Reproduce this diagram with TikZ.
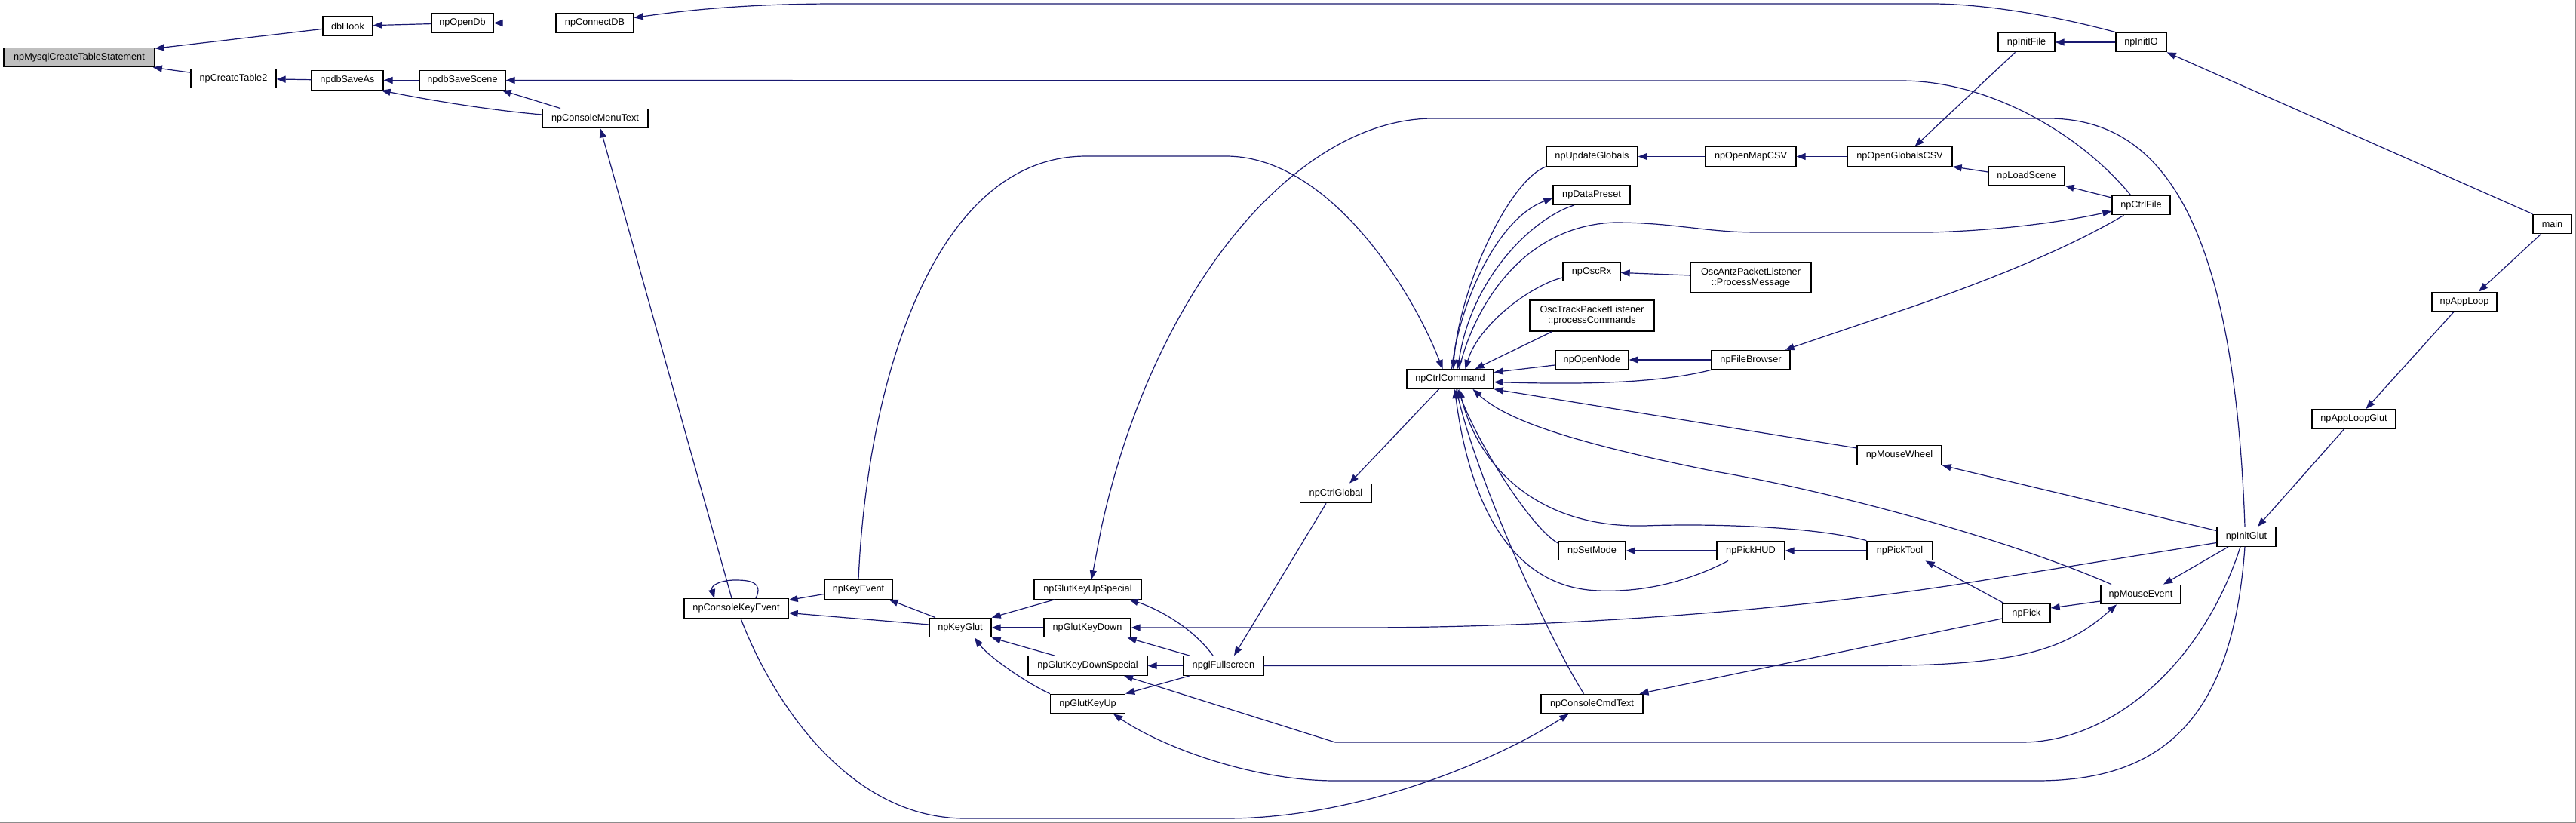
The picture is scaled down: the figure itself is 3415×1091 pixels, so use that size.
\documentclass[tikz,border=0pt]{standalone}
\usepackage{fontspec}
\setmainfont{Liberation Sans}
\usetikzlibrary{arrows.meta,calc}
\definecolor{edgeblue}{HTML}{191970}
\begin{document}
\begin{tikzpicture}[x=1pt,y=-1pt,
 nd/.style={draw=black, line width=1.3pt, fill=white, inner sep=0pt, minimum height=25.5pt, font=\fontsize{12.7}{14}\selectfont, text=black},
 ed/.style={draw=edgeblue, line width=1.2pt, -{Triangle[length=12pt,width=9pt]}}
]
\useasboundingbox (0,0) rectangle (3415,1091);
\fill[white] (0,0) rectangle (3415,1091);
\draw[black!45,line width=1.5pt] (0,1090.25) -- (3414.25,1090.25) -- (3414.25,0);

\node[nd,minimum width=200pt,fill=black!25] (mysql) at (105,76) {npMysqlCreateTableStatement};
\node[nd,minimum width=66pt] (dbHook) at (461,34.5) {dbHook};
\node[nd,minimum width=82pt] (openDb) at (613,30.5) {npOpenDb};
\node[nd,minimum width=103pt] (connectDB) at (788.5,30.5) {npConnectDB};
\node[nd,minimum width=113pt] (createTable2) at (309.5,104) {npCreateTable2};
\node[nd,minimum width=95pt] (dbSaveAs) at (460.5,106.5) {npdbSaveAs};
\node[nd,minimum width=114pt] (dbSaveScene) at (613,106.5) {npdbSaveScene};
\node[nd,minimum width=140pt] (menuText) at (789,157) {npConsoleMenuText};
\node[nd,minimum width=75pt] (initFile) at (2686.5,56) {npInitFile};
\node[nd,minimum width=67pt] (initIO) at (2838.5,56) {npInitIO};
\node[nd,minimum width=121pt] (updGlobals) at (2110.5,207.5) {npUpdateGlobals};
\node[nd,minimum width=120pt] (openMap) at (2321,207.5) {npOpenMapCSV};
\node[nd,minimum width=139pt] (openGlobals) at (2518.5,207.5) {npOpenGlobalsCSV};
\node[nd,minimum width=101pt] (loadScene) at (2686.5,233) {npLoadScene};
\node[nd,minimum width=77pt] (ctrlFile) at (2838.5,272) {npCtrlFile};
\node[nd,minimum width=51pt] (main) at (3383.5,297) {main};
\node[nd,minimum width=102pt] (dataPreset) at (2110,258.5) {npDataPreset};
\node[nd,minimum width=76pt] (oscRx) at (2110,360) {npOscRx};
\node[nd,minimum width=160pt,minimum height=40pt,align=center] (oscAntz) at (2321,368) {OscAntzPacketListener\\::ProcessMessage};
\node[nd,minimum width=165pt,minimum height=41pt,align=center] (oscTrack) at (2110.5,418.5) {OscTrackPacketListener\\::processCommands};
\node[nd,minimum width=86pt] (appLoop) at (3267,400) {npAppLoop};
\node[nd,minimum width=115pt] (ctrlCmd) at (1922.5,502.5) {npCtrlCommand};
\node[nd,minimum width=97pt] (openNode) at (2110.5,477) {npOpenNode};
\node[nd,minimum width=104pt] (fileBrowser) at (2321,477) {npFileBrowser};
\node[nd,minimum width=111pt] (appLoopGlut) at (3120.5,555.5) {npAppLoopGlut};
\node[nd,minimum width=112pt] (mouseWheel) at (2518,603.5) {npMouseWheel};
\node[nd,minimum width=95pt] (ctrlGlobal) at (1771,654) {npCtrlGlobal};
\node[nd,minimum width=78pt] (initGlut) at (2978,711.5) {npInitGlut};
\node[nd,minimum width=89pt] (setMode) at (2110.5,730) {npSetMode};
\node[nd,minimum width=90pt] (pickHUD) at (2321,730) {npPickHUD};
\node[nd,minimum width=87pt] (pickTool) at (2518.5,730) {npPickTool};
\node[nd,minimum width=90pt] (keyEvent) at (1138,781.5) {npKeyEvent};
\node[nd,minimum width=142pt] (gkUpSpecial) at (1442,781.5) {npGlutKeyUpSpecial};
\node[nd,minimum width=106pt] (mouseEvent) at (2838,788) {npMouseEvent};
\node[nd,minimum width=138pt] (consoleKey) at (976,806.5) {npConsoleKeyEvent};
\node[nd,minimum width=63pt] (pick) at (2686.5,813) {npPick};
\node[nd,minimum width=82pt] (keyGlut) at (1273,832) {npKeyGlut};
\node[nd,minimum width=115pt] (gkDown) at (1441.5,832) {npGlutKeyDown};
\node[nd,minimum width=158pt] (gkDownSpecial) at (1442,882.5) {npGlutKeyDownSpecial};
\node[nd,minimum width=106pt] (fullscreen) at (1622,882.5) {npglFullscreen};
\node[nd,minimum width=99pt] (gkUp) at (1442,933) {npGlutKeyUp};
\node[nd,minimum width=135pt] (cmdText) at (2110.5,933) {npConsoleCmdText};

% top-left chain
\draw[ed] (dbHook) -- (mysql);
\draw[ed] (createTable2) -- (mysql);
\draw[ed] (openDb) -- (dbHook);
\draw[ed] (connectDB) -- (openDb);
\draw[ed] (initIO.north west) .. controls (2740,25) and (2640,5) .. (2560,5) -- (1110,5) .. controls (1000,5) and (920,12) .. ([yshift=7]connectDB.east);
\draw[ed] (dbSaveAs) -- (createTable2);
\draw[ed] (dbSaveScene) -- (dbSaveAs);
\draw[ed] ([yshift=5]menuText.west) .. controls (660,147) and (580,135) .. ([xshift=-3]dbSaveAs.south east);
\draw[ed] ([xshift=-46]menuText.north) -- ([xshift=-5]dbSaveScene.south east);
\draw[ed] ([xshift=-14]ctrlFile.north) .. controls (2760,180) and (2640,107) .. (2520,107) -- (dbSaveScene.east);

% top-right
\draw[ed] (initIO) -- (initFile);
\draw[ed] ([xshift=-15]initFile.south) -- ([xshift=20]openGlobals.north);
\draw[ed] (main.north west) -- (initIO.south east);
\draw[ed] ([xshift=-15]main.south) -- ([xshift=19]appLoop.north);
\draw[ed] ([xshift=-14]appLoop.south) -- ([xshift=16]appLoopGlut.north);
\draw[ed] ([xshift=-13]appLoopGlut.south) -- ([xshift=15]initGlut.north);
\draw[ed] (openMap) -- (updGlobals);
\draw[ed] (openGlobals) -- (openMap);
\draw[ed] ([yshift=5]loadScene.west) -- (openGlobals.south east);
\draw[ed] ([yshift=10]ctrlFile.west) -- (loadScene.south east);

% npCtrlCommand top
\draw[ed] ([xshift=12]ctrlCmd.north) .. controls (1950,420) and (2010,300) .. (2140,295) .. controls (2220,295) and (2260,308) .. (2330,308) -- (2560,308) .. controls (2660,305) and (2740,293) .. ([yshift=-8]ctrlFile.west);
\draw[ed] ([xshift=2]ctrlCmd.north) .. controls (1935,400) and (1985,290) .. ([yshift=-4]dataPreset.west);
\draw[ed] ([xshift=-23]dataPreset.south) .. controls (2030,290) and (1950,370) .. ([xshift=10]ctrlCmd.north);
\draw[ed] (updGlobals.south west) .. controls (2000,240) and (1935,380) .. ([xshift=4]ctrlCmd.north);
\draw[ed] (keyEvent.north) .. controls (1150,500) and (1240,207) .. (1440,207) -- (1625,207) .. controls (1760,207) and (1870,380) .. ([xshift=-10]ctrlCmd.north);
\draw[ed] ([xshift=-53]oscTrack.south) -- ([xshift=33]ctrlCmd.north);
\draw[ed] ([yshift=-8]oscRx.west) .. controls (2030,378) and (1960,430) .. ([xshift=20]ctrlCmd.north);
\draw[ed] (oscAntz) -- (oscRx);

% long curve from npInitGlut to npGlutKeyUpSpecial
\draw[ed] ([xshift=-2]initGlut.north) .. controls (2962,300) and (2870,157) .. (2715,157) -- (1900,157) .. controls (1720,157) and (1530,380) .. (1460,700) -- ([xshift=5]gkUpSpecial.north);

% npCtrlCommand right and bottom
\draw[ed] ([xshift=-13]ctrlGlobal.south) -- ([xshift=14]fullscreen.north);
\draw[ed] ([xshift=-15]ctrlCmd.south) -- ([xshift=18]ctrlGlobal.north);
\draw[ed] ([xshift=-11]cmdText.north) .. controls (2050,840) and (1960,640) .. ([xshift=8]ctrlCmd.south);
\draw[ed] ([yshift=10]setMode.west) .. controls (2030,700) and (1960,590) .. ([xshift=10]ctrlCmd.south);
\draw[ed] ([xshift=-30]pickHUD.south) .. controls (2230,775) and (2170,785) .. (2120,783) .. controls (2010,780) and (1950,680) .. ([xshift=6]ctrlCmd.south);
\draw[ed] (pickTool.north west) .. controls (2400,697) and (2260,694) .. (2180,697) .. controls (2040,700) and (1960,620) .. ([xshift=12]ctrlCmd.south);
\draw[ed] ([xshift=-39]mouseEvent.north) .. controls (2650,710) and (2420,650) .. (2274,625) .. controls (2100,590) and (2000,560) .. ([xshift=30]ctrlCmd.south);
\draw[ed] ([yshift=9.5]mouseWheel.west) -- (ctrlCmd.south east);
\draw[ed] (fileBrowser.south west) .. controls (2200,508) and (2100,510) .. ([yshift=-4]ctrlCmd.east);
\draw[ed] ([yshift=-7]openNode.west) -- ([yshift=9]ctrlCmd.east);
\draw[ed] (fileBrowser) -- (openNode);
\draw[ed] ([xshift=-23]ctrlFile.south) .. controls (2740,330) and (2640,370) .. (2540,405) -- ([xshift=-7]fileBrowser.north east);

% key handling cluster
\draw[ed] ([xshift=-6]consoleKey.north) -- ([xshift=7]menuText.south);
\draw[ed] ([xshift=26]consoleKey.north) .. controls (1012,772) and (995,769) .. (975,769) .. controls (955,769) and (942,776) .. ([xshift=-29]consoleKey.north);
\draw[ed] ([yshift=-6]keyEvent.west) -- ([yshift=11]consoleKey.east);
\draw[ed] ([yshift=4]keyGlut.west) -- ([yshift=-6]consoleKey.east);
\draw[ed] ([xshift=-33]keyGlut.north) -- ([xshift=-5]keyEvent.south east);
\draw[ed] ([xshift=-44]gkUpSpecial.south) -- (keyGlut.north east);
\draw[ed] (gkDown) -- (keyGlut);
\draw[ed] ([xshift=-44]gkDownSpecial.north) -- (keyGlut.south east);
\draw[ed] (gkUp.north west) .. controls (1360,905) and (1310,870) .. ([xshift=19]keyGlut.south);
\draw[ed] ([xshift=-14]fullscreen.north) .. controls (1580,830) and (1530,805) .. ([xshift=55]gkUpSpecial.south);
\draw[ed] ([xshift=-45]fullscreen.north) -- ([xshift=-5]gkDown.south east);
\draw[ed] (fullscreen) -- (gkDownSpecial);
\draw[ed] ([xshift=-45]fullscreen.south) -- (gkUp.north east);

% long lower connectors
\draw[ed] ([yshift=-8]initGlut.west) -- (2600,774) .. controls (2400,805) and (2100,832) .. (1800,832) -- (gkDown.east);
\draw[ed] (fullscreen.east) -- (2480,882.5) .. controls (2680,882.5) and (2740,860) .. ([xshift=-32]mouseEvent.south);
\draw[ed] ([xshift=-8]initGlut.south) .. controls (2920,880) and (2800,984) .. (2680,984) -- (1770,984) -- ([xshift=48]gkDownSpecial.south);
\draw[ed] ([xshift=-2]initGlut.south) .. controls (2960,950) and (2870,1035) .. (2700,1035) -- (1770,1035) .. controls (1660,1035) and (1540,990) .. ([xshift=34]gkUp.south);
\draw[ed] ([xshift=6]consoleKey.south) .. controls (1020,920) and (1120,1085) .. (1280,1085) -- (1625,1085) .. controls (1800,1085) and (1980,1010) .. ([xshift=-31]cmdText.south);

% mouse / pick cluster
\draw[ed] ([yshift=-7]pick.west) -- ([xshift=63]cmdText.north);
\draw[ed] ([yshift=-9]mouseEvent.west) -- ([yshift=7]pick.east);
\draw[ed] ([xshift=-30]pick.north) -- ([xshift=34]pickTool.south);
\draw[ed] ([xshift=-24]initGlut.south) -- ([xshift=30]mouseEvent.north);
\draw[ed] ([yshift=8]initGlut.west) -- (mouseWheel.south east);
\draw[ed] (pickTool) -- (pickHUD);
\draw[ed] (pickHUD) -- (setMode);
\end{tikzpicture}
\end{document}
